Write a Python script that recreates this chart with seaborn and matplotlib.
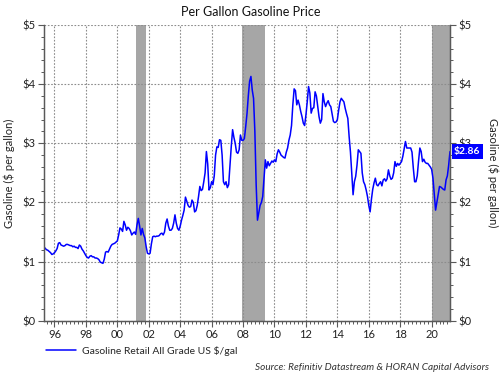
import numpy as np
import pandas as pd
import matplotlib
matplotlib.use("Agg")
import matplotlib.pyplot as plt
import seaborn as sns
from matplotlib.ticker import MultipleLocator
from matplotlib.lines import Line2D

# monthly retail gasoline price, $/gal (series starts May 1995, ends Mar 2021)
p1995 = [1.25, 1.22, 1.20, 1.19, 1.17, 1.15, 1.12, 1.13]
p1996 = [1.15, 1.18, 1.22, 1.31, 1.32, 1.28, 1.27, 1.26, 1.27, 1.29, 1.29, 1.28]
p1997 = [1.27, 1.27, 1.25, 1.26, 1.24, 1.24, 1.22, 1.28, 1.26, 1.21, 1.18, 1.14]
p1998 = [1.10, 1.07, 1.06, 1.09, 1.10, 1.08, 1.08, 1.06, 1.06, 1.05, 1.03, 0.99]
p1999 = [0.98, 0.97, 1.04, 1.16, 1.17, 1.16, 1.21, 1.26, 1.29, 1.30, 1.31, 1.33]
p2000 = [1.35, 1.45, 1.57, 1.55, 1.51, 1.68, 1.62, 1.53, 1.58, 1.56, 1.52, 1.45]
p2001 = [1.48, 1.50, 1.46, 1.62, 1.73, 1.60, 1.45, 1.56, 1.46, 1.40, 1.25, 1.14]
p2002 = [1.13, 1.14, 1.30, 1.42, 1.43, 1.42, 1.43, 1.43, 1.44, 1.47, 1.48, 1.45]
p2003 = [1.50, 1.65, 1.72, 1.60, 1.53, 1.53, 1.56, 1.65, 1.79, 1.65, 1.56, 1.53]
p2004 = [1.60, 1.70, 1.78, 1.87, 2.09, 2.02, 1.95, 1.92, 1.93, 2.04, 2.00, 1.84]
p2005 = [1.86, 1.95, 2.10, 2.27, 2.20, 2.22, 2.35, 2.50, 2.86, 2.65, 2.21, 2.25]
p2006 = [2.35, 2.30, 2.45, 2.80, 2.94, 2.93, 3.06, 3.05, 2.80, 2.35, 2.30, 2.35]
p2007 = [2.25, 2.30, 2.62, 2.95, 3.23, 3.10, 3.00, 2.85, 2.83, 2.89, 3.14, 3.05]
p2008 = [3.05, 3.08, 3.28, 3.50, 3.80, 4.05, 4.13, 3.90, 3.76, 3.20, 2.30, 1.70]
p2009 = [1.82, 1.95, 2.00, 2.10, 2.40, 2.72, 2.58, 2.69, 2.62, 2.66, 2.70, 2.68]
p2010 = [2.72, 2.69, 2.82, 2.89, 2.85, 2.80, 2.78, 2.76, 2.75, 2.85, 2.92, 3.05]
p2011 = [3.14, 3.30, 3.65, 3.92, 3.89, 3.65, 3.73, 3.65, 3.54, 3.45, 3.34, 3.30]
p2012 = [3.48, 3.70, 3.96, 3.85, 3.51, 3.59, 3.60, 3.87, 3.80, 3.62, 3.45, 3.34]
p2013 = [3.40, 3.84, 3.70, 3.62, 3.68, 3.72, 3.65, 3.62, 3.50, 3.37, 3.35, 3.36]
p2014 = [3.40, 3.56, 3.70, 3.76, 3.73, 3.70, 3.59, 3.50, 3.42, 3.11, 2.85, 2.49]
p2015 = [2.13, 2.35, 2.44, 2.63, 2.89, 2.86, 2.83, 2.50, 2.35, 2.30, 2.21, 2.10]
p2016 = [1.95, 1.84, 2.05, 2.22, 2.33, 2.41, 2.30, 2.28, 2.32, 2.35, 2.28, 2.38]
p2017 = [2.40, 2.36, 2.40, 2.55, 2.45, 2.39, 2.41, 2.50, 2.69, 2.61, 2.66, 2.63]
p2018 = [2.66, 2.69, 2.78, 2.90, 3.03, 2.92, 2.92, 2.92, 2.92, 2.85, 2.58, 2.35]
p2019 = [2.35, 2.45, 2.70, 2.92, 2.86, 2.69, 2.73, 2.68, 2.66, 2.66, 2.63, 2.60]
p2020 = [2.56, 2.41, 2.15, 1.87, 2.00, 2.13, 2.27, 2.26, 2.24, 2.22, 2.21, 2.38]
p2021 = [2.45, 2.63, 2.86]

# recessions (decimal years)
rec_start = [2001.2, 2007.92, 2020.05]
rec_end = [2001.83, 2009.4, 2021.2]

year_ticks = list(range(1996, 2021, 2))
year_labels = ['96', '98', '00', '02', '04', '06', '08', '10', '12', '14', '16', '18', '20']
dollar_ticks = [0, 1, 2, 3, 4, 5]
dollar_labels = ['$0', '$1', '$2', '$3', '$4', '$5']

prices = (p1995 + p1996 + p1997 + p1998 + p1999 + p2000 + p2001 + p2002 + p2003 + p2004
          + p2005 + p2006 + p2007 + p2008 + p2009 + p2010 + p2011 + p2012 + p2013 + p2014
          + p2015 + p2016 + p2017 + p2018 + p2019 + p2020 + p2021)
t = 1995 + (4 + np.arange(len(prices))) / 12.
df = pd.DataFrame({'year': t, 'price': prices})

sns.set_style('white')
plt.rcParams['font.family'] = ['Lato', 'DejaVu Sans']

spine_c = '#595959'
grid_c = '#8c8c8c'
blue = '#0000ff'

fig = plt.figure(figsize=(5.03, 3.77), dpi=100)
ax = fig.add_axes([0.0875, 0.1493, 0.8071, 0.7844])

for s, e in zip(rec_start, rec_end):
    ax.axvspan(s, e, color='#a6a6a6', lw=0, zorder=0.3)

sns.lineplot(data=df, x='year', y='price', color=blue, lw=1.1, ax=ax, legend=False)

ax.set_xlim(t[0], t[-1])
ax.set_ylim(0, 5)
ax.set_xticks(year_ticks)
ax.set_xticklabels(year_labels)
ax.xaxis.set_minor_locator(MultipleLocator(0.25))
ax.set_yticks(dollar_ticks)
ax.set_yticklabels(dollar_labels)
ax.yaxis.set_minor_locator(MultipleLocator(0.2))
ax.set_axisbelow(True)
ax.grid(True, which='major', color=grid_c, linestyle=(0, (1.5, 1.5)), linewidth=0.8)
ax.set_xlabel('')
ax.set_ylabel('Gasoline ($ per gallon)', fontsize=8, color='#222222')
ax.yaxis.set_label_coords(-0.072, 0.5)

ax2 = ax.twinx()
ax2.set_ylim(0, 5)
ax2.set_yticks(dollar_ticks)
ax2.set_yticklabels(dollar_labels)
ax2.yaxis.set_minor_locator(MultipleLocator(0.2))
ax2.set_ylabel('Gasoline ($ per gallon)', fontsize=8, color='#222222', rotation=270, va='bottom')
ax2.yaxis.set_label_coords(1.09, 0.5)

for a in (ax, ax2):
    a.spines['top'].set_visible(False)
    for side in ('left', 'right', 'bottom'):
        a.spines[side].set_color(spine_c)
        a.spines[side].set_linewidth(0.9)
    a.tick_params(which='major', direction='out', length=4, width=0.8, color=spine_c,
                  labelsize=8, labelcolor='#222222', pad=2)
    a.tick_params(which='minor', direction='out', length=2, width=0.7, color=spine_c)
ax.tick_params(axis='x', which='both', bottom=True)
ax.tick_params(axis='y', which='both', left=True, right=False)
ax2.tick_params(axis='y', which='both', right=True, left=False)

last = prices[-1]
ax2.annotate('$%.2f' % last, xy=(1, last), xycoords=('axes fraction', 'data'),
             xytext=(3, 0), textcoords='offset points', ha='left', va='center',
             color='white', fontsize=7.5, fontweight='bold', zorder=10,
             bbox=dict(boxstyle='square,pad=0.25', fc=blue, ec='none'))

fig.text(0.499, 0.968, 'Per Gallon Gasoline Price', ha='center', va='center',
         fontsize=9, color='#111111')

handle = Line2D([], [], color=blue, lw=1.1)
fig.legend([handle], ['Gasoline Retail All Grade US $/gal'], loc='center left',
           bbox_to_anchor=(0.092, 1 - 351 / 377.), frameon=False, fontsize=7.5,
           handlelength=2.9, handletextpad=0.5, borderaxespad=0, borderpad=0)

fig.text(489 / 503., 1 - 367 / 377., 'Source: Refinitiv Datastream & HORAN Capital Advisors',
         ha='right', va='center', fontsize=7.2, style='italic', color='#333333')

fig.savefig('out.png', dpi=100)
